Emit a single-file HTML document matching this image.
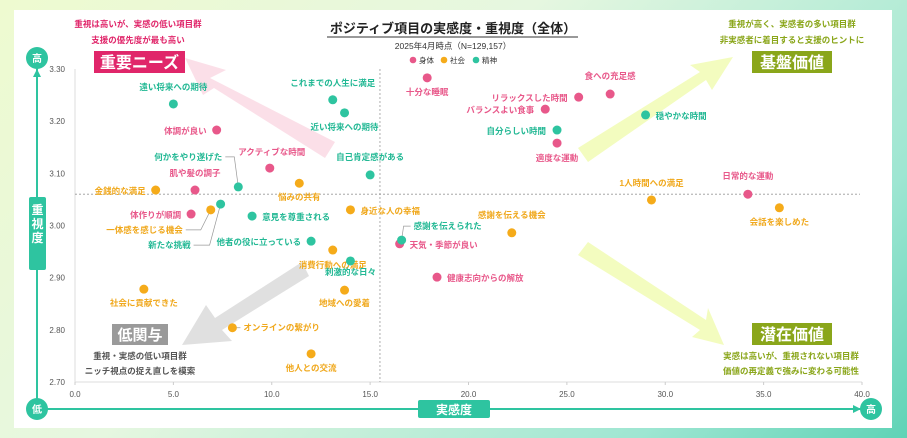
<!DOCTYPE html>
<html><head><meta charset="utf-8">
<style>
html,body{margin:0;padding:0;width:907px;height:438px;overflow:hidden;background:linear-gradient(135deg,#eefad0 0%,#e6f7e0 40%,#9ee6d2 80%,#5fd3b6 100%);font-family:"Liberation Sans","Noto Sans CJK JP",sans-serif;}
svg{position:absolute;left:0;top:0}
text{font-family:"Liberation Sans","Noto Sans CJK JP",sans-serif}
</style></head><body>
<svg width="907" height="438" viewBox="0 0 907 438">
<rect x="14" y="10" width="878" height="418" fill="#ffffff"/>
<g id="arrows">
<polygon points="335,142 210,78 226,70 185,58 203,95 214,88 325,158" fill="#f6b8cc" opacity="0.45"/>
<polygon points="578,148 700,72 690,65 733,57 712,90 706,80 588,162" fill="#eafa8a" opacity="0.55"/>
<polygon points="578,255 700,330 692,337 724,345 708,308 706,320 588,242" fill="#eafa8a" opacity="0.55"/>
<polygon points="302,262 215,318 206,305 182,345 232,341 222,330 309,276" fill="#cccccc" opacity="0.6"/>
</g>
<g id="axes"></g>
<g id="marks"></g>
<!-- quadrant labels -->
<text x="138" y="27" text-anchor="middle" font-size="8.5" font-weight="bold" fill="#e0266a">重視は高いが、実感の低い項目群</text>
<text x="138" y="43" text-anchor="middle" font-size="8.5" font-weight="bold" fill="#e0266a">支援の優先度が最も高い</text>
<rect x="94" y="51" width="91" height="22" fill="#e0266a"/>
<text x="139.5" y="68" text-anchor="middle" font-size="16" font-weight="bold" fill="#fff">重要ニーズ</text>
<text x="792" y="27" text-anchor="middle" font-size="8.5" font-weight="bold" fill="#8aa61a">重視が高く、実感者の多い項目群</text>
<text x="792" y="43" text-anchor="middle" font-size="8.5" font-weight="bold" fill="#8aa61a">非実感者に着目すると支援のヒントに</text>
<rect x="752" y="51" width="80" height="22" fill="#8aa61a"/>
<text x="792" y="68" text-anchor="middle" font-size="16" font-weight="bold" fill="#fff">基盤価値</text>
<rect x="752" y="323" width="80" height="22" fill="#8aa61a"/>
<text x="792" y="340" text-anchor="middle" font-size="16" font-weight="bold" fill="#fff">潜在価値</text>
<text x="791" y="359" text-anchor="middle" font-size="8.5" font-weight="bold" fill="#8aa61a">実感は高いが、重視されない項目群</text>
<text x="791" y="374" text-anchor="middle" font-size="8.5" font-weight="bold" fill="#8aa61a">価値の再定義で強みに変わる可能性</text>
<rect x="112" y="324" width="56" height="21" fill="#9a9a9a"/>
<text x="140" y="340" text-anchor="middle" font-size="15" font-weight="bold" fill="#fff">低関与</text>
<text x="140" y="359" text-anchor="middle" font-size="8.5" font-weight="bold" fill="#555">重視・実感の低い項目群</text>
<text x="140" y="374" text-anchor="middle" font-size="8.5" font-weight="bold" fill="#555">ニッチ視点の捉え直しを模索</text>
<!-- title -->
<text x="453" y="33" text-anchor="middle" font-size="13" font-weight="bold" fill="#222">ポジティブ項目の実感度・重視度（全体）</text>
<line x1="327" y1="37" x2="578" y2="37" stroke="#333" stroke-width="1"/>
<text x="453" y="49" text-anchor="middle" font-size="8.5" fill="#333">2025年4月時点（N=129,157）</text>
<g>
<circle cx="413" cy="60" r="3.3" fill="#e8588a"/>
<text x="419" y="63" font-size="7.5" fill="#333">身体</text>
<circle cx="444" cy="60" r="3.3" fill="#f5ab1a"/>
<text x="450" y="63" font-size="7.5" fill="#333">社会</text>
<circle cx="476" cy="60" r="3.3" fill="#2ec4a0"/>
<text x="482" y="63" font-size="7.5" fill="#333">精神</text>
</g>
<!-- outer axes -->
<line x1="37" y1="68" x2="37" y2="410" stroke="#2ec4a0" stroke-width="2"/>
<polygon points="33,77 41,77 37,69" fill="#2ec4a0"/>
<circle cx="37" cy="58" r="11" fill="#2ec4a0"/>
<text x="37" y="62" text-anchor="middle" font-size="10" font-weight="bold" fill="#fff">高</text>
<rect x="29" y="197" width="17" height="73" rx="2" fill="#2ec4a0"/>
<text x="37.5" y="214" text-anchor="middle" font-size="12" font-weight="bold" fill="#fff"><tspan x="37.5">重</tspan><tspan x="37.5" dy="14">視</tspan><tspan x="37.5" dy="14">度</tspan></text>
<line x1="37" y1="409" x2="862" y2="409" stroke="#2ec4a0" stroke-width="2"/>
<polygon points="853,405 853,413 861,409" fill="#2ec4a0"/>
<circle cx="37" cy="409" r="11" fill="#2ec4a0"/>
<text x="37" y="413" text-anchor="middle" font-size="10" font-weight="bold" fill="#fff">低</text>
<circle cx="871" cy="409" r="11" fill="#2ec4a0"/>
<text x="871" y="413" text-anchor="middle" font-size="10" font-weight="bold" fill="#fff">高</text>
<rect x="418" y="400" width="72" height="18" rx="2" fill="#2ec4a0"/>
<text x="454" y="414" text-anchor="middle" font-size="12" font-weight="bold" fill="#fff">実感度</text>
</svg>
<script>
const categories=["身体","社会","精神"];
const colors={"身体":"#e8588a","社会":"#f5ab1a","精神":"#2ec4a0"};
const labelColors={"身体":"#e8588a","社会":"#f0a81c","精神":"#22b894"};
const itemNames=["十分な睡眠","食への充足感","リラックスした時間","バランスよい食事","適度な運動","体調が良い","アクティブな時間","肌や髪の調子","体作りが順調","天気・季節が良い","健康志向からの解放","日常的な運動",
"金銭的な満足","悩みの共有","身近な人の幸福","一体感を感じる機会","1人時間への満足","会話を楽しめた","感謝を伝える機会","消費行動への満足","社会に貢献できた","地域への愛着","オンラインの繋がり","他人との交流",
"遠い将来への期待","これまでの人生に満足","近い将来への期待","自己肯定感がある","自分らしい時間","穏やかな時間","何かをやり遂げた","新たな挑戦","意見を尊重される","他者の役に立っている","刺激的な日々","感謝を伝えられた"];
const itemCategory=["身体","身体","身体","身体","身体","身体","身体","身体","身体","身体","身体","身体",
"社会","社会","社会","社会","社会","社会","社会","社会","社会","社会","社会","社会",
"精神","精神","精神","精神","精神","精神","精神","精神","精神","精神","精神","精神"];
const satisfaction=[17.9,27.2,25.6,23.9,24.5,7.2,9.9,6.1,5.9,16.5,18.4,34.2,
4.1,11.4,14.0,6.9,29.3,35.8,22.2,13.1,3.5,13.7,8.0,12.0,
5.0,13.1,13.7,15.0,24.5,29.0,8.3,7.4,9.0,12.0,14.0,16.6];
const importance=[3.283,3.252,3.246,3.223,3.158,3.183,3.110,3.068,3.022,2.965,2.901,3.060,
3.068,3.081,3.030,3.030,3.049,3.034,2.986,2.953,2.878,2.876,2.804,2.754,
3.233,3.241,3.216,3.097,3.183,3.212,3.074,3.041,3.018,2.970,2.932,2.972];
const xTicks=["0.0","5.0","10.0","15.0","20.0","25.0","30.0","35.0","40.0"];
const yTicks=["2.70","2.80","2.90","3.00","3.10","3.20","3.30"];
const avgSatisfaction=15.5;
const avgImportance=3.06;
// label placement (styling): [anchor, dx, dy, leader]
const labelPlace=[["middle",0,17],["middle",0,-15],["end",-11,4],["end",-11,4],["middle",0,18],["end",-10,4],["middle",2,-13],["middle",0,-14],["end",-10,4],["start",10,4],["start",10,4],["middle",0,-15],
["end",-10,4],["middle",0,17],["start",10,4],["end",-28,23,1],["middle",0,-14],["middle",0,17],["middle",0,-15],["middle",0,18],["middle",0,17],["middle",0,16],["start",11,3,1],["middle",0,17],
["middle",0,-14],["middle",0,-14],["middle",0,17],["middle",0,-15],["end",-11,4],["start",10,4],["end",-16,-27,1],["end",-30,44,1],["start",10,4],["end",-10,4],["middle",0,14],["start",12,-11,1]];

const X0=75,X1=862,Y0=382,Y1=69,XMAX=40,YMIN=2.7,YMAX=3.3;
const xs=v=>X0+(v/XMAX)*(X1-X0);
const ys=v=>Y0-(v-YMIN)/(YMAX-YMIN)*(Y0-Y1);
const NS="http://www.w3.org/2000/svg";
const axes=document.getElementById('axes'),marks=document.getElementById('marks');
function mk(tag,attrs,parent){const e=document.createElementNS(NS,tag);for(const k in attrs)e.setAttribute(k,attrs[k]);parent.appendChild(e);return e;}

const xl=mk('line',{x1:X0,y1:Y0,x2:X1,y2:Y0,stroke:'#ddd','stroke-width':1},axes);


const yl=mk('line',{x1:X0,y1:Y0,x2:X0,y2:Y1,stroke:'#ddd','stroke-width':1},axes);


xTicks.forEach(t=>{const v=parseFloat(t);
 const tk=mk('line',{x1:xs(v),y1:Y0,x2:xs(v),y2:Y0+3,stroke:'#ccc'},axes);
 
 
 const tx=mk('text',{x:xs(v),y:Y0+15,'text-anchor':'middle','font-size':8,fill:'#555'},axes);tx.textContent=t;
 
 
});
yTicks.forEach(t=>{const v=parseFloat(t);
 const tx=mk('text',{x:X0-10,y:ys(v)+3,'text-anchor':'end','font-size':8,fill:'#555'},axes);tx.textContent=t;
 
 
});
const vl=mk('line',{x1:xs(avgSatisfaction),y1:Y1,x2:xs(avgSatisfaction),y2:Y0,stroke:'#999','stroke-dasharray':'2,2','stroke-width':0.8},axes);


const hl=mk('line',{x1:X0,y1:ys(avgImportance),x2:X1-2,y2:ys(avgImportance),stroke:'#999','stroke-dasharray':'2,2','stroke-width':0.8},axes);



itemNames.forEach((n,i)=>{
 const cat=itemCategory[i];const cx=xs(satisfaction[i]),cy=ys(importance[i]);const p=labelPlace[i];
 const lx=cx+p[1],ly=cy+p[2];
 if(p[3]){
  const ld=mk('polyline',{points:`${cx},${cy} ${(cx+lx)/2+ (p[0]==='end'?4:-4)},${ly-3} ${lx+(p[0]==='end'?3:-3)},${ly-3}`,fill:'none',stroke:'#999','stroke-width':0.7},marks);
  
  
 }
 const c=mk('circle',{cx:cx,cy:cy,r:4.5,fill:colors[cat]},marks);
 
 
 const t=mk('text',{x:lx,y:ly,'text-anchor':p[0],'font-size':8.5,'font-weight':'bold',fill:labelColors[cat]},marks);
 t.textContent=n;
 
 
});
</script>
</body></html>
